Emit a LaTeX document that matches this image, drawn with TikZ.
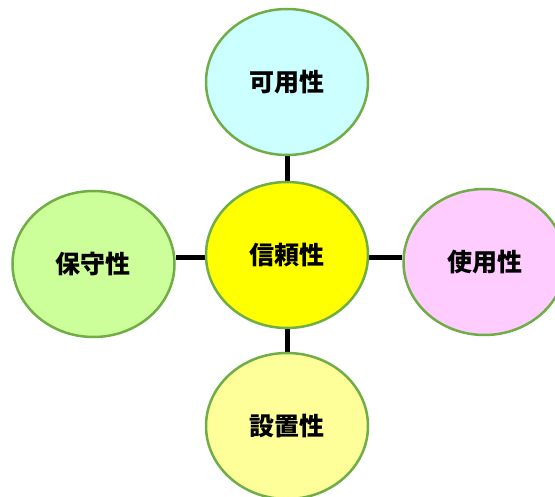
\documentclass[tikz,border=0pt]{standalone}
\usepackage{fontspec}
\newfontfamily\cjk{Noto Sans CJK JP}
\usetikzlibrary{shapes.geometric,backgrounds}
\definecolor{bordergreen}{HTML}{70AD47}
\definecolor{fcyan}{HTML}{CCFFFF}
\definecolor{fyellow}{HTML}{FFFF00}
\definecolor{flime}{HTML}{CCFF99}
\definecolor{fpink}{HTML}{FFCCFF}
\definecolor{fcream}{HTML}{FFFF99}
\begin{document}
\begin{tikzpicture}[x=1pt,y=-1pt,
  bubble/.style={ellipse, draw=bordergreen, line width=2.5pt, minimum width=162pt, minimum height=146pt, inner sep=0pt,
    font=\cjk\bfseries\fontsize{25}{28}\selectfont, text=black},
  link/.style={draw=black, line width=5pt}]
\useasboundingbox (0,0) rectangle (555,497);
\clip (0,0) rectangle (555,497);
\node[bubble, fill=fcyan] (avail) at (287,82) {可用性};
\node[bubble, fill=fyellow] (rel) at (287,255) {信頼性};
\node[bubble, fill=flime] (maint) at (93.5,264) {保守性};
\node[bubble, fill=fpink] (use) at (484.5,262) {使用性};
\node[bubble, fill=fcream] (inst) at (287,426) {設置性};
\begin{pgfonlayer}{background}
\fill[white] (0,0) rectangle (555,497);
\draw[link] (avail) -- (rel);
\draw[link] (rel) -- (inst);
\draw[link] ([yshift=-3pt]rel.west) -- ([yshift=-3pt]rel.west -| maint.east);
\draw[link] ([yshift=-3pt]rel.east) -- ([yshift=-3pt]rel.east -| use.west);
\end{pgfonlayer}
\end{tikzpicture}
\end{document}
